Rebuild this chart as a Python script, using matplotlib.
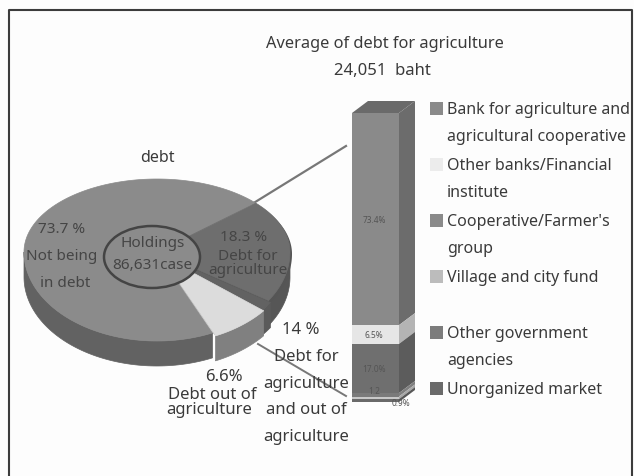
import numpy as np
import matplotlib
matplotlib.use('Agg')
import matplotlib.pyplot as plt
from matplotlib.patches import Ellipse, Polygon, Rectangle

pie_values = [18.3, 1.4, 6.6, 73.7]
pie_colors = ['#6e6e6e', '#626262', '#dcdcdc', '#8b8b8b']
pie_sides = ['#565656', '#5a5a5a', '#808080', '#626262']
bar_labels = ['Bank for agriculture and\nagricultural cooperative', 'Other banks/Financial\ninstitute',
              "Cooperative/Farmer's\ngroup", 'Village and city fund', 'Other government\nagencies', 'Unorganized market']
bar_values = [73.4, 6.5, 17.0, 1.2, 0.9, 1.0]
bar_texts = ['73.4%', '6.5%', '17.0%', '1.2', '', '0.9%']
bar_colors = ['#8a8a8a', '#e6e6e6', '#6f6f6f', '#7a7a7a', '#c8c8c8', '#6a6a6a']
bar_sides = ['#6c6c6c', '#b4b4b4', '#5c5c5c', '#808080', '#a8a8a8', '#585858']

plt.rcParams['font.family'] = ['Noto Sans', 'DejaVu Sans']
TXT = '#3a3a3a'
fig = plt.figure(figsize=(6.34, 4.77), dpi=100, facecolor='#fdfdfd')
ax = fig.add_axes([0, 0, 1, 1])
ax.set_xlim(0, 634); ax.set_ylim(477, 0); ax.axis('off')

# frame
ax.plot([9, 9, 632, 632], [477, 11, 11, 477], color='#3c3c3c', lw=1.5)

# pie, drawn in a tilted perspective: near half deeper than far half
cx, cy, rx, ry_far, ry_near, depth = 157, 253, 133, 73, 89, 25
def warp(a):
    return a + 8.6 * np.sin(np.radians(a + 8))
def pt(a, dy=0, ox=0, oy=0):
    t = np.radians(warp(a))
    ry = ry_far if np.sin(t) > 0 else ry_near
    return (cx + ox + rx*np.cos(t), cy + oy + dy - ry*np.sin(t))
angles = [36]
for v in pie_values:
    angles.append(angles[-1] - v * 3.6)
offsets = [(0, 0), (2, 2), (3, 3), (0, 0)]
order = [3, 0, 1, 2]
# dark shadow under the slices, seen through the gaps between them
ts = np.linspace(angles[0], angles[3], 120)
ax.add_patch(Polygon([(cx, cy)] + [pt(t, ox=2, oy=2) for t in ts], closed=True, fc='#555555', ec='none', zorder=2.5))
for i in order:
    ox, oy = offsets[i]
    ts = np.linspace(angles[i], angles[i+1], 240)
    vis = ts[np.sin(np.radians(warp(ts))) <= 0.0]
    if len(vis):
        top = [pt(t, ox=ox, oy=oy) for t in vis]
        bot = [pt(t, dy=depth, ox=ox, oy=oy) for t in vis[::-1]]
        ax.add_patch(Polygon(top + bot, closed=True, fc=pie_sides[i], ec=pie_sides[i], lw=0.5, zorder=2))
for i in order:
    ox, oy = offsets[i]
    ts = np.linspace(angles[i], angles[i+1], 240)
    poly = [(cx+ox, cy+oy)] + [pt(t, ox=ox, oy=oy) for t in ts]
    ax.add_patch(Polygon(poly, closed=True, fc=pie_colors[i], ec=pie_colors[i], lw=0.5, zorder=3))
ax.add_patch(Ellipse((152, 258), 96, 62, fc='#8b8b8b', ec='#444444', lw=1.8, zorder=4))

for x, y, s in [(62, 230, '73.7 %'), (62, 257, 'Not being'), (65, 284, 'in debt'),
                (153, 244, 'Holdings'), (152, 266, '86,631case'),
                (244, 238, '18.3 %'), (248, 257, 'Debt for'), (248, 271, 'agriculture')]:
    ax.text(x, y, s, ha='center', va='center', fontsize=11, color='#454545', zorder=5)

# connectors
ax.plot([252, 346], [205, 147], color='#777777', lw=1.6, zorder=1)
ax.plot([258, 346], [345, 397], color='#777777', lw=1.4, zorder=6)

# bar
bx0, bx1, btop, bbot = 352, 399, 114, 403
dx, dy = 16, 12
ys = btop + np.cumsum([0] + bar_values) / sum(bar_values) * (bbot - btop)
for i in range(len(bar_values)):
    y0, y1 = ys[i], ys[i+1]
    ax.add_patch(Rectangle((bx0, y0), bx1-bx0, y1-y0, fc=bar_colors[i], ec='none', zorder=3))
    ax.add_patch(Polygon([(bx1, y0), (bx1+dx, y0-dy), (bx1+dx, y1-dy), (bx1, y1)], fc=bar_sides[i], ec='none', zorder=3))
    if bar_texts[i]:
        last = i == len(bar_values)-1
        ax.text(401 if last else 374, (y0+y1)/2 + (2 if last else 0) - (4 if i == 3 else 0), bar_texts[i],
                ha='center', va='center', fontsize=6, color='#555555', zorder=5)
ax.add_patch(Polygon([(bx0, btop), (bx0+dx, btop-dy), (bx1+dx, btop-dy), (bx1, btop)], fc='#6a6a6a', ec='none', zorder=3))

# legend
leg_y = [109, 165, 221, 277, 333, 389]
leg_c = ['#8a8a8a', '#ececec', '#8a8a8a', '#bcbcbc', '#7c7c7c', '#6a6a6a']
for y, lab, c in zip(leg_y, bar_labels, leg_c):
    ax.add_patch(Rectangle((430, y-6), 13, 13, fc=c, ec='none'))
    for k, part in enumerate(lab.split('\n')):
        ax.text(447, y + 1 + 27*k, part, ha='left', va='center', fontsize=11.5, color=TXT, zorder=5)

# titles and outer labels
ax.text(385, 44, 'Average of debt for agriculture', ha='center', va='center', fontsize=11.8, color=TXT)
ax.text(382, 71, '24,051  baht', ha='center', va='center', fontsize=12, color=TXT)
ax.text(157, 158, 'debt', ha='center', va='center', fontsize=11.5, color=TXT)
for x, y, s in [(301, 330, '14 %'), (306, 357, 'Debt for'), (306, 384, 'agriculture'), (306, 410, 'and out of'), (306, 437, 'agriculture'),
                (224, 377, '6.6%'), (212, 395, 'Debt out of'), (209, 410, 'agriculture')]:
    ax.text(x, y, s, ha='center', va='center', fontsize=12, color=TXT, zorder=7)

fig.savefig('out.png', dpi=100, facecolor=fig.get_facecolor())
